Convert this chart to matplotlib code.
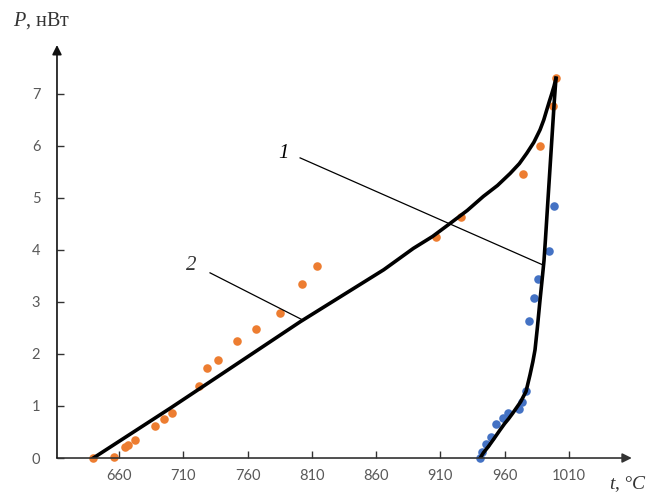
import numpy as np
import matplotlib.pyplot as plt

plt.rcParams['mathtext.fontset'] = 'custom'
plt.rcParams['mathtext.it'] = 'Liberation Serif:italic'
plt.rcParams['mathtext.rm'] = 'Liberation Serif'

# measured points, series 1 (blue) and series 2 (orange)
t1 = [941, 942.3, 945.4, 949.5, 953, 959, 963, 971.5, 973.6, 976.7, 979, 983.2, 986.3, 994.6, 998.5]
p1 = [0.0, 0.12, 0.26, 0.41, 0.65, 0.76, 0.86, 0.94, 1.08, 1.28, 2.63, 3.07, 3.44, 3.98, 4.85]

t2 = [640, 656, 664.7, 667, 672.5, 688, 695, 701, 722, 728.5, 737, 752, 766.6, 785, 802, 814,
      906.7, 926, 974, 987.6, 997.5, 1000]
p2 = [0.0, 0.02, 0.21, 0.25, 0.35, 0.62, 0.75, 0.87, 1.38, 1.73, 1.88, 2.25, 2.48, 2.79, 3.35, 3.69,
      4.24, 4.63, 5.46, 5.99, 6.76, 7.3]

# fitted curves
fit1_t = [941, 943.5, 947.4, 952, 956.5, 960, 963, 966, 968, 972.5, 976.7, 979.8, 982, 983.7,
          985.5, 987.6, 989.3, 990.7, 991.8, 993.6, 996.2, 998.8, 1000]
fit1_p = [0.0, 0.1, 0.22, 0.38, 0.54, 0.66, 0.75, 0.85, 0.92, 1.08, 1.28, 1.6, 1.85, 2.08,
          2.5, 3.04, 3.45, 3.8, 4.2, 4.9, 5.9, 6.9, 7.3]

fit2_t = [640, 700, 739, 801, 866, 889, 904, 917.6, 931, 943.5, 954.5, 964.3, 971.5, 977.3,
          982.8, 987.6, 990.5, 992.8, 994.9, 996.7, 998.5, 1000]
fit2_p = [0.0, 0.96, 1.6, 2.62, 3.62, 4.03, 4.26, 4.51, 4.76, 5.03, 5.24, 5.47, 5.66, 5.86,
          6.07, 6.31, 6.5, 6.69, 6.86, 7.0, 7.15, 7.3]

xticks = [660, 710, 760, 810, 860, 910, 960, 1010]
yticks = [0, 1, 2, 3, 4, 5, 6, 7]

fig = plt.figure(figsize=(6.52, 4.98), dpi=100)
ax = fig.add_axes([0.0874, 0.0803, 0.8816, 0.8293])
ax.set_xlim(611.7, 1059)
ax.set_ylim(0, 7.94)

ax.plot(fit2_t, fit2_p, color='black', lw=2.6, zorder=3, solid_joinstyle='round')
ax.plot(fit1_t, fit1_p, color='black', lw=2.6, zorder=3, solid_joinstyle='round')
ax.scatter(t2, p2, s=38, color='#ED7D31', zorder=2, clip_on=False, linewidths=0)
ax.scatter(t1, p1, s=38, color='#4472C4', zorder=2, clip_on=False, linewidths=0)

# leader lines and curve numbers
ax.plot([800.9, 990], [5.77, 3.71], color='black', lw=0.9)
ax.plot([730.8, 803.2], [3.56, 2.65], color='black', lw=0.9)
ax.text(787.6, 5.85, '1', fontsize=15, family='Liberation Serif', style='italic',
        ha='center', va='center')
ax.text(716, 3.71, '2', fontsize=15, family='Liberation Serif', style='italic',
        ha='center', va='center', color='#333333')

for s in ax.spines.values():
    s.set_visible(False)
ax.annotate('', xy=(1.0, 0), xytext=(0, 0), xycoords='axes fraction',
            arrowprops=dict(arrowstyle='-|>', color='#333333', lw=1.2,
                            mutation_scale=14, shrinkA=0, shrinkB=0))
ax.annotate('', xy=(0, 1.0), xytext=(0, 0), xycoords='axes fraction',
            arrowprops=dict(arrowstyle='-|>', color='#111111', lw=1.2,
                            mutation_scale=14, shrinkA=0, shrinkB=0))

ax.set_xticks(xticks)
ax.set_yticks(yticks)
ax.tick_params(direction='in', length=5, width=1, color='#333333',
               labelcolor='#595959', labelsize=10.5)
ax.tick_params(axis='x', pad=8)
ax.tick_params(axis='y', pad=12)
for lab in ax.get_xticklabels() + ax.get_yticklabels():
    lab.set_family('Lato')

fig.text(13 / 652, 1 - 21 / 498, '$P$, нВт', fontsize=14.5, family='Liberation Serif',
         va='center', ha='left', color='#333333')
fig.text(647 / 652, 1 - 484 / 498, '$t$, °$C$', fontsize=14, family='Liberation Serif',
         va='center', ha='right', color='#333333')

plt.savefig('out.png', dpi=100)
